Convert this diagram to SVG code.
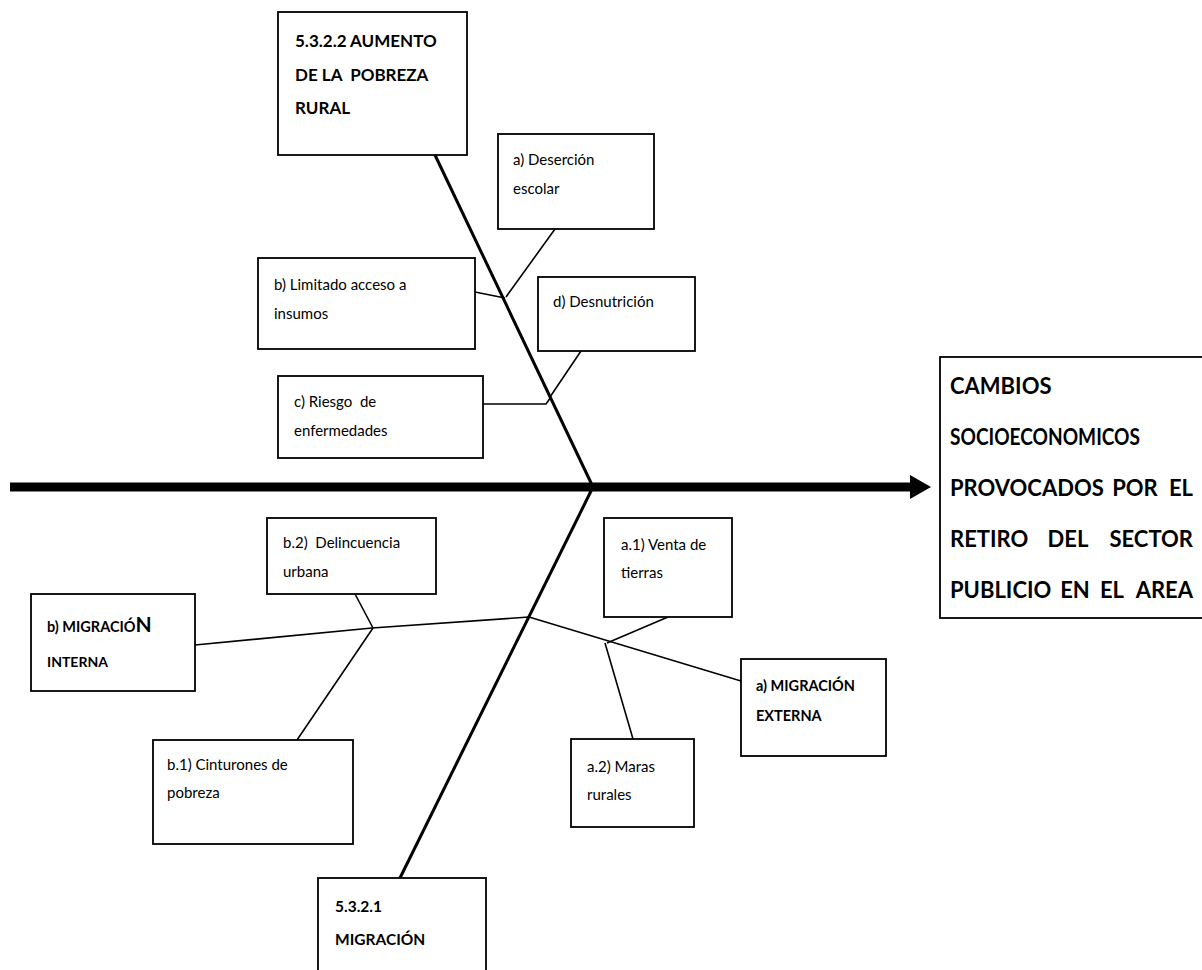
<svg xmlns="http://www.w3.org/2000/svg" width="1202" height="970" viewBox="0 0 1202 970">
<style>
.box{fill:#fff;stroke:#000;stroke-width:1.8}
.t{font-family:Lato,"Open Sans","Liberation Sans",sans-serif;font-size:15px;fill:#000}
.b{font-family:Lato,"Open Sans","Liberation Sans",sans-serif;font-weight:bold;fill:#000}
.big{font-size:22px}
.ln{stroke:#000;stroke-width:1.6;fill:none}
.spine{stroke:#000;stroke-width:3;fill:none}
</style>
<rect width="1202" height="970" fill="#fff"/>
<g id="connectors">
  <line x1="10" y1="487" x2="914" y2="487" stroke="#000" stroke-width="9"/>
  <polygon points="910,475 931,487 910,499" fill="#000"/>
  <line class="spine" x1="435" y1="155" x2="593" y2="487"/>
  <line class="spine" x1="593" y1="487" x2="400" y2="878"/>
  <line class="ln" x1="555" y1="229" x2="506" y2="297"/>
  <line class="ln" x1="475" y1="292" x2="505" y2="298"/>
  <line class="ln" x1="581" y1="351" x2="550" y2="397"/>
  <polyline class="ln" points="483,404 546,404 551,397"/>
  <polyline class="ln" points="195,645 372,628 529,617"/>
  <line class="ln" x1="529" y1="617" x2="741" y2="681"/>
  <line class="ln" x1="355" y1="594" x2="373" y2="628"/>
  <line class="ln" x1="373" y1="628" x2="297" y2="740"/>
  <line class="ln" x1="668" y1="617" x2="607" y2="643"/>
  <line class="ln" x1="605" y1="643" x2="633" y2="739"/>
</g>
<g id="n-aumento">
  <rect class="box" x="278" y="12" width="189" height="143"/>
  <text class="b" font-size="17" x="295" y="47">5.3.2.2 AUMENTO</text>
  <text class="b" font-size="17" x="295" y="81" xml:space="preserve">DE LA  POBREZA</text>
  <text class="b" font-size="17" x="295" y="114">RURAL</text>
</g>
<g id="n-desercion">
  <rect class="box" x="498" y="134" width="156" height="95"/>
  <text class="t" x="513" y="165">a) Deserción</text>
  <text class="t" x="513" y="194">escolar</text>
</g>
<g id="n-limitado">
  <rect class="box" x="258" y="258" width="217" height="91"/>
  <text class="t" x="274" y="290">b) Limitado acceso a</text>
  <text class="t" x="274" y="319">insumos</text>
</g>
<g id="n-desnutricion">
  <rect class="box" x="538" y="277" width="157" height="74"/>
  <text class="t" x="553" y="307">d) Desnutrición</text>
</g>
<g id="n-riesgo">
  <rect class="box" x="278" y="376" width="205" height="82"/>
  <text class="t" x="294" y="407" xml:space="preserve">c) Riesgo  de</text>
  <text class="t" x="294" y="436">enfermedades</text>
</g>
<g id="n-efecto">
  <rect class="box" x="940" y="357" width="270" height="261"/>
  <text class="b big" x="950" y="394">CAMBIOS</text>
  <text class="b big" x="950" y="445" textLength="190" lengthAdjust="spacingAndGlyphs">SOCIOECONOMICOS</text>
  <text class="b big" y="496"><tspan x="950">PROVOCADOS</tspan><tspan x="1135" text-anchor="middle">POR</tspan><tspan x="1193" text-anchor="end">EL</tspan></text>
  <text class="b big" y="547"><tspan x="950">RETIRO</tspan><tspan x="1068" text-anchor="middle">DEL</tspan><tspan x="1193" text-anchor="end">SECTOR</tspan></text>
  <text class="b big" y="598"><tspan x="950">PUBLICIO</tspan><tspan x="1075" text-anchor="middle">EN</tspan><tspan x="1112" text-anchor="middle">EL</tspan><tspan x="1193" text-anchor="end">AREA</tspan></text>
</g>
<g id="n-delincuencia">
  <rect class="box" x="267" y="518" width="169" height="76"/>
  <text class="t" x="283" y="548" xml:space="preserve">b.2)  Delincuencia</text>
  <text class="t" x="283" y="577">urbana</text>
</g>
<g id="n-venta">
  <rect class="box" x="604" y="518" width="128" height="99"/>
  <text class="t" x="621" y="550">a.1) Venta de</text>
  <text class="t" x="621" y="578">tierras</text>
</g>
<g id="n-interna">
  <rect class="box" x="31" y="594" width="164" height="97"/>
  <text class="b" x="47" y="632"><tspan font-size="14.5">b) MIGRACIÓ</tspan><tspan font-size="21">N</tspan></text>
  <text class="b" font-size="14" x="47" y="667">INTERNA</text>
</g>
<g id="n-externa">
  <rect class="box" x="741" y="659" width="145" height="97"/>
  <text class="b" font-size="14.5" x="756" y="691">a) MIGRACIÓN</text>
  <text class="b" font-size="14.5" x="756" y="721">EXTERNA</text>
</g>
<g id="n-cinturones">
  <rect class="box" x="153" y="740" width="200" height="104"/>
  <text class="t" x="167" y="770">b.1) Cinturones de</text>
  <text class="t" x="167" y="798">pobreza</text>
</g>
<g id="n-maras">
  <rect class="box" x="571" y="739" width="123" height="88"/>
  <text class="t" x="587" y="772">a.2) Maras</text>
  <text class="t" x="587" y="800">rurales</text>
</g>
<g id="n-migracion">
  <rect class="box" x="318" y="878" width="168" height="100"/>
  <text class="b" font-size="15.5" x="335" y="912">5.3.2.1</text>
  <text class="b" font-size="15.5" x="335" y="945">MIGRACIÓN</text>
</g>
</svg>
